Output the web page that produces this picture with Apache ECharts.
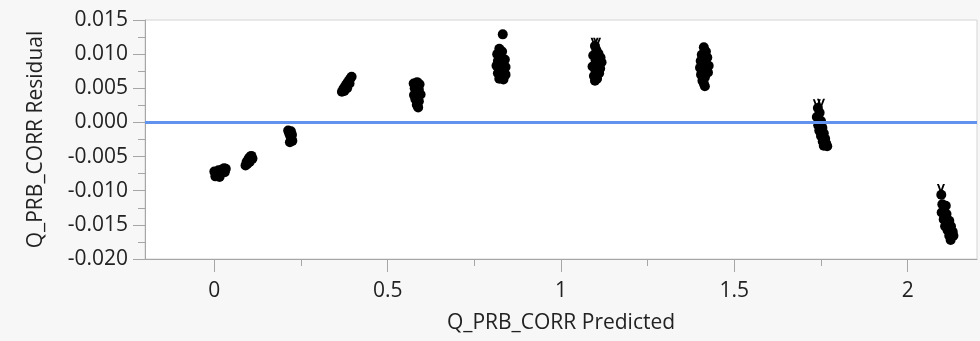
<!DOCTYPE html>
<html>
<head>
<meta charset="utf-8">
<script src="https://cdn.jsdelivr.net/npm/echarts@6/dist/echarts.min.js"></script>
<style>
html,body{margin:0;padding:0;background:#fff;}
#chart{position:absolute;left:0;top:0;width:980px;height:341px;}
</style>
</head>
<body>
<div id="chart"></div>
<script>
// ---- data (predicted, residual) ----
const xTickValues = [0, 0.5, 1, 1.5, 2];
const xMinorValues = [0.25, 0.75, 1.25, 1.75];
const xTickLabels = ['0', '0.5', '1', '1.5', '2'];

const cluster000 = [[0.000,-0.0072],[0.005,-0.0075],[0.010,-0.0078],[0.012,-0.0070],[0.018,-0.0072],[0.022,-0.0069],[0.028,-0.0067],[0.033,-0.0068],[0.030,-0.0073],[0.015,-0.0080],[0.003,-0.0079]];
const cluster010 = [[0.090,-0.0063],[0.093,-0.0058],[0.097,-0.0055],[0.100,-0.0052],[0.104,-0.0050],[0.107,-0.0049],[0.102,-0.0058],[0.095,-0.0061],[0.110,-0.0053]];
const cluster022 = [[0.213,-0.0012],[0.216,-0.0016],[0.219,-0.0020],[0.222,-0.0024],[0.225,-0.0027],[0.221,-0.0013],[0.224,-0.0018],[0.218,-0.0029]];
const cluster039 = [[0.368,0.0045],[0.372,0.0049],[0.376,0.0052],[0.380,0.0055],[0.384,0.0058],[0.388,0.0061],[0.392,0.0064],[0.396,0.0067],[0.375,0.0046],[0.390,0.0057],[0.383,0.0050]];
const cluster059 = [[0.575,0.0057],[0.585,0.0059],[0.592,0.0056],[0.578,0.0050],[0.590,0.0048],[0.583,0.0044],[0.576,0.0040],[0.595,0.0041],[0.580,0.0034],[0.590,0.0031],[0.584,0.0026],[0.588,0.0022]];
const cluster083 = [[0.832,0.0129],[0.822,0.0108],[0.830,0.0104],[0.816,0.0100],[0.826,0.0096],[0.838,0.0092],[0.818,0.0090],[0.830,0.0086],[0.814,0.0083],[0.840,0.0081],[0.824,0.0078],[0.834,0.0074],[0.818,0.0072],[0.840,0.0070],[0.828,0.0066],[0.834,0.0063],[0.822,0.0064]];
const cluster110 = [[1.098,0.0112],[1.102,0.0106],[1.108,0.0101],[1.093,0.0098],[1.114,0.0095],[1.100,0.0091],[1.117,0.0088],[1.105,0.0084],[1.091,0.0082],[1.113,0.0079],[1.100,0.0075],[1.110,0.0072],[1.095,0.0068],[1.104,0.0064],[1.098,0.0061]];
const cluster141 = [[1.412,0.0110],[1.418,0.0104],[1.406,0.0099],[1.422,0.0095],[1.403,0.0090],[1.415,0.0087],[1.426,0.0083],[1.401,0.0080],[1.412,0.0077],[1.424,0.0073],[1.404,0.0070],[1.415,0.0066],[1.408,0.0061],[1.412,0.0057],[1.415,0.0053]];
const cluster175 = [[1.741,0.0021],[1.746,0.0014],[1.738,0.0008],[1.750,0.0002],[1.742,-0.0004],[1.754,-0.0008],[1.745,-0.0012],[1.758,-0.0016],[1.750,-0.0020],[1.762,-0.0024],[1.755,-0.0028],[1.765,-0.0031],[1.758,-0.0034],[1.768,-0.0035]];
const cluster211 = [[2.097,-0.0106],[2.100,-0.0120],[2.110,-0.0122],[2.098,-0.0132],[2.112,-0.0134],[2.104,-0.0142],[2.120,-0.0144],[2.108,-0.0152],[2.125,-0.0152],[2.115,-0.0158],[2.130,-0.0160],[2.120,-0.0166],[2.132,-0.0166],[2.124,-0.0172]];
const vMarks = [[1.097,0.0118],[1.104,0.0118],[1.738,0.0028],[1.750,0.0029],[2.096,-0.0096]];
const zeroLine = 0;

const residualPoints = [].concat(cluster000, cluster010, cluster022, cluster039, cluster059,
  cluster083, cluster110, cluster141, cluster175, cluster211);

const FONT = '"Open Sans", "Noto Sans", sans-serif';
const chart = echarts.init(document.getElementById('chart'));
const axisGray = '#a6a6a6';
chart.setOption({
  backgroundColor: '#f7f7f7',
  animation: false,
  grid: {
    left: 145, right: 3, top: 20, bottom: 82,
    show: true, backgroundColor: '#ffffff', borderColor: '#d4d4d4', borderWidth: 1
  },
  xAxis: [{
    type: 'value', min: -0.2, max: 2.2,
    name: 'Q_PRB_CORR Predicted', nameLocation: 'middle', nameGap: 54,
    nameTextStyle: { fontFamily: FONT, fontSize: 21, color: '#222' },
    axisLine: { show: true, onZero: false, lineStyle: { color: axisGray } },
    axisTick: { show: true, length: 13, customValues: xTickValues, lineStyle: { color: axisGray } },
    axisLabel: { customValues: xTickValues, margin: 22, fontFamily: FONT, fontSize: 21, color: '#222',
      formatter: v => { const i = xTickValues.indexOf(v); return i >= 0 ? xTickLabels[i] : ''; } },
    splitLine: { show: false }
  }, {
    type: 'value', min: -0.2, max: 2.2, position: 'bottom',
    axisLine: { show: false, onZero: false },
    axisTick: { show: true, length: 7, customValues: xMinorValues, lineStyle: { color: axisGray } },
    axisLabel: { show: false },
    splitLine: { show: false }
  }],
  yAxis: {
    type: 'value', min: -0.02, max: 0.015, interval: 0.005,
    name: 'Q_PRB_CORR Residual', nameLocation: 'middle', nameGap: 98,
    nameTextStyle: { fontFamily: FONT, fontSize: 21, color: '#222' },
    axisLine: { show: true, onZero: false, lineStyle: { color: axisGray } },
    axisTick: { show: true, length: 12, lineStyle: { color: axisGray } },
    minorTick: { show: true, splitNumber: 2, length: 7, lineStyle: { color: axisGray } },
    axisLabel: { margin: 17, fontFamily: FONT, fontSize: 21, color: '#222', formatter: v => v.toFixed(3) },
    splitLine: { show: false }
  },
  series: [{
    type: 'scatter',
    data: residualPoints,
    symbol: 'circle', symbolSize: 10,
    itemStyle: { color: '#000', opacity: 1, borderWidth: 0 },
    markLine: {
      silent: true, symbol: 'none', label: { show: false },
      lineStyle: { color: '#6193ee', width: 3, type: 'solid' },
      data: [{ yAxis: zeroLine }]
    },
    z: 3
  }, {
    type: 'scatter',
    data: vMarks,
    symbol: 'path://M0,0 L2.5,0 L5,7 L7.5,0 L10,0 L6.2,10 L3.8,10 Z',
    symbolSize: [8, 8],
    itemStyle: { color: '#000', opacity: 1 },
    z: 4
  }]
});
</script>
</body>
</html>
